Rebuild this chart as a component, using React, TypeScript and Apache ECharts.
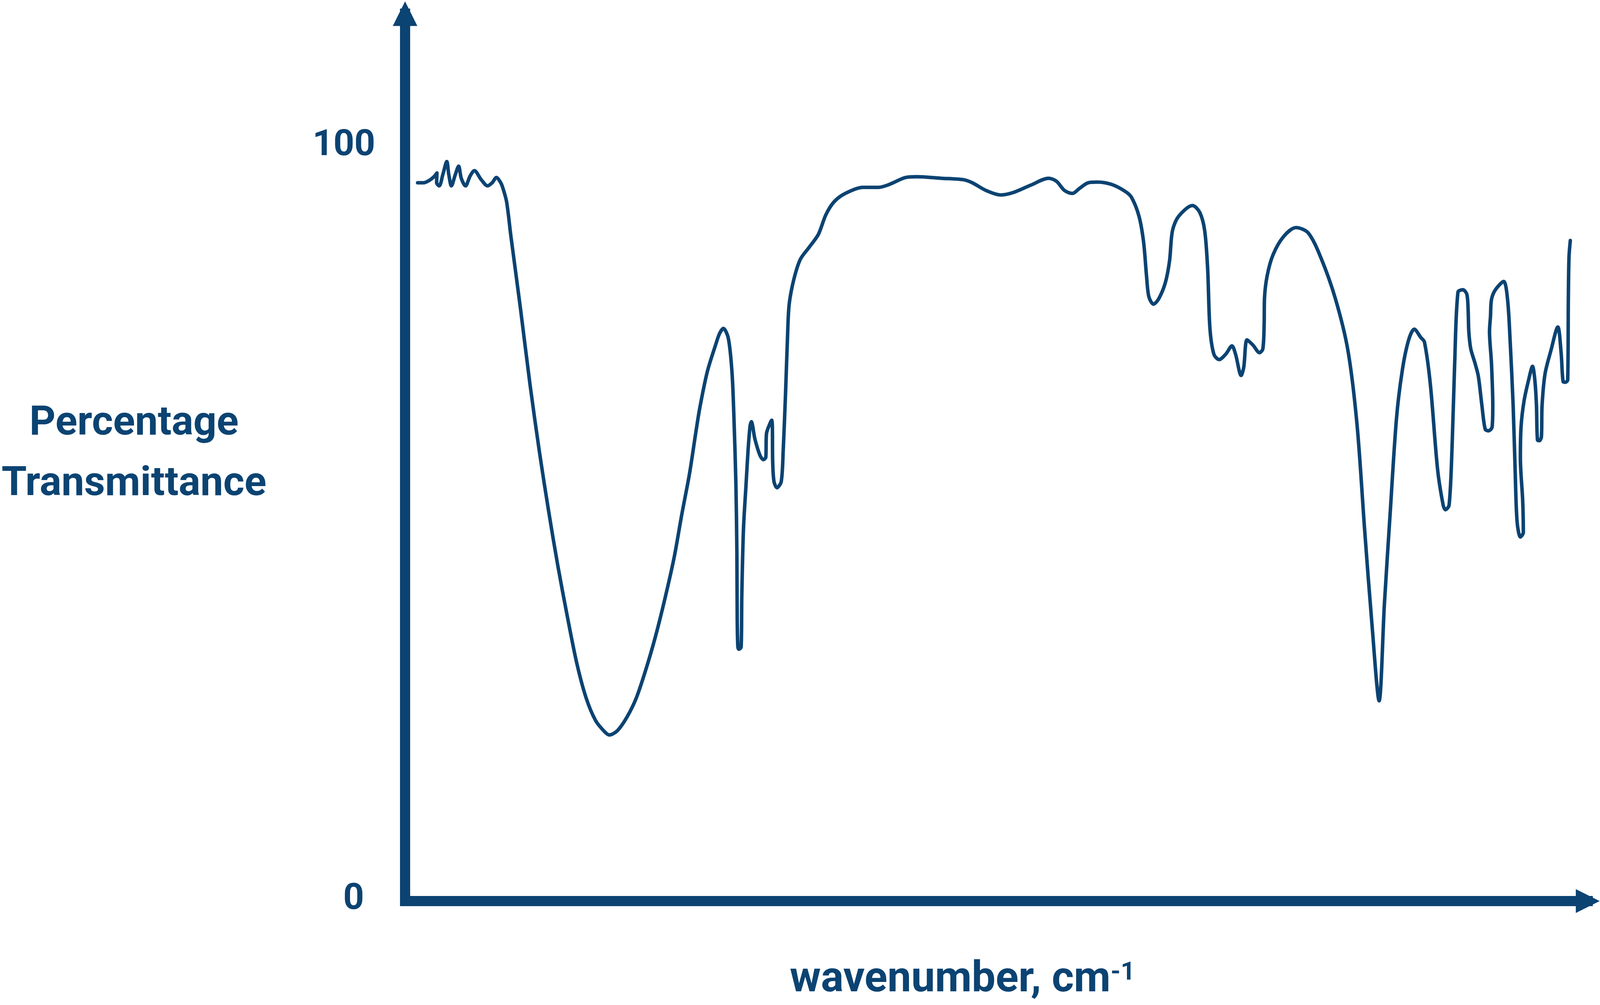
import { useEffect, useRef } from 'react'
import * as echarts from 'echarts'

const INK = '#0b4372'
const FONT = 'Roboto, "Noto Sans", sans-serif'

// layout was measured on a 4562 x 2572 page; everything is scaled to the real viewport
const BASE_W = 4562
const BASE_H = 2572

// wavenumber (cm-1), read left to right along the trace
const wavenumbers = [
  3962, 3944, 3927, 3912, 3903, 3904, 3896, 3885, 3873, 3867, 3859, 3847, 3837, 3829, 3816, 3802,
  3789, 3768, 3749, 3735, 3722, 3710, 3703, 3691, 3678, 3649, 3620, 3591, 3563, 3535, 3506, 3477,
  3449, 3420, 3392, 3378, 3353, 3324, 3296, 3268, 3239, 3210, 3181, 3158, 3134, 3116, 3103, 3080,
  3055, 3043, 3031, 3016, 3005, 2999, 2993, 2990, 2989, 2987, 2984, 2977, 2975, 2970, 2962, 2956,
  2950, 2946, 2935, 2920, 2909, 2902, 2900, 2888, 2884, 2882, 2881, 2877, 2868, 2855, 2849, 2842,
  2836, 2831, 2817, 2797, 2770, 2742, 2719, 2694, 2660, 2606, 2559, 2525, 2477, 2442, 2368, 2299,
  2273, 2232, 2187, 2150, 2095, 2041, 2017, 1993, 1969, 1946, 1921, 1892, 1850, 1809, 1789, 1766,
  1752, 1743, 1736, 1722, 1706, 1686, 1673, 1664, 1645, 1603, 1581, 1566, 1557, 1550, 1538, 1522,
  1502, 1483, 1472, 1455, 1447, 1437, 1419, 1399, 1389, 1385, 1384, 1376, 1358, 1326, 1288, 1251,
  1213, 1168, 1130, 1102, 1079, 1057, 1035, 1019, 1001, 982, 964, 945, 928, 908, 897, 879,
  857, 840, 833, 822, 813, 805, 795, 780, 768, 764, 762, 756, 743, 733, 722, 712,
  702, 691, 689, 693, 699, 696, 693, 681, 656, 644, 636, 627, 621, 615, 605, 596,
  598, 605, 603, 594, 580, 568, 561, 556, 553, 547, 541, 539, 530, 512, 491, 481,
  475, 468, 461, 459, 457, 453,
]

// percentage transmittance at each wavenumber above
const transmittance = [
  94.7, 94.7, 95.0, 95.5, 96.0, 94.7, 94.3, 95.8, 97.5, 95.8, 94.3, 95.8, 96.9, 95.3, 94.3, 95.6,
  96.3, 95.1, 94.3, 94.7, 95.4, 94.8, 94.1, 92.2, 87.7, 78.2, 68.2, 59.2, 51.4, 44.2, 37.5, 31.3,
  26.8, 23.8, 22.3, 21.9, 22.5, 24.3, 26.8, 30.4, 34.7, 39.7, 45.3, 50.9, 56.4, 61.5, 65.0, 69.8,
  73.3, 74.8, 75.5, 74.2, 69.8, 63.8, 55.0, 46.1, 37.2, 33.5, 33.2, 33.5, 40.2, 49.0, 55.0, 59.4,
  62.6, 63.2, 60.9, 58.8, 58.2, 58.5, 61.6, 63.1, 63.4, 62.6, 57.9, 55.3, 54.5, 55.3, 59.4, 66.8,
  74.2, 78.6, 81.9, 84.6, 86.2, 87.9, 90.5, 92.2, 93.3, 94.1, 94.1, 94.5, 95.4, 95.5, 95.3, 95.1,
  94.7, 93.7, 93.1, 93.4, 94.4, 95.3, 94.9, 93.7, 93.3, 94.0, 94.7, 94.8, 94.5, 93.6, 92.8, 90.3,
  86.9, 82.4, 79.7, 78.7, 79.4, 81.5, 84.4, 88.4, 90.3, 91.7, 90.8, 88.4, 83.4, 75.5, 72.1, 71.4,
  72.1, 73.2, 72.1, 69.3, 70.4, 74.0, 73.3, 72.3, 72.8, 76.0, 79.4, 82.4, 85.2, 87.6, 88.8, 88.1,
  84.9, 79.4, 72.6, 62.7, 48.9, 36.6, 26.4, 39.1, 51.4, 63.7, 70.1, 74.0, 75.4, 74.3, 73.7, 68.1,
  56.9, 52.2, 51.6, 52.2, 59.8, 70.9, 80.3, 80.6, 80.0, 77.9, 75.1, 72.8, 70.9, 69.2, 65.3, 62.2,
  62.0, 62.5, 65.3, 70.9, 75.1, 77.1, 79.3, 80.6, 81.7, 79.3, 73.7, 65.3, 56.9, 50.0, 48.0, 48.6,
  52.8, 58.4, 62.5, 65.9, 68.7, 70.5, 68.7, 65.3, 60.8, 60.7, 61.2, 65.3, 69.5, 72.6, 75.7, 72.3,
  68.5, 68.4, 68.7, 79.3, 84.9, 87.1,
]

const yTickLabels = [0, 100]
const yTitle = 'Percentage\nTransmittance'
const xTitle = 'wavenumber, cm'
const xTitleSup = '-1'

export default function App() {
  const ref = useRef<HTMLDivElement | null>(null)

  useEffect(() => {
    const el = ref.current
    if (!el) return
    const chart = echarts.init(el, null, { renderer: 'svg' })
    const sx = el.clientWidth / BASE_W
    const sy = el.clientHeight / BASE_H
    const s = Math.min(sx, sy)
    const data = wavenumbers.map((w, i) => [w, transmittance[i]])

    // y title: two centred lines, first baseline at 1110
    const yTitleSize = 116 * s
    const yTitleLine = 155 * sy
    const yTitleTop = 1110 * sy - yTitleLine / 2 - 0.33 * yTitleSize

    // x title: main baseline near the bottom edge
    const xTitleSize = 121 * s
    const xTitleLine = 106 * s
    const xTitleGap = 2536 * sy - (xTitleLine / 2 + 0.33 * xTitleSize) - 2306 * sy

    chart.setOption({
      animation: false,
      backgroundColor: '#ffffff',
      grid: {
        left: 1155 * sx,
        right: 35 * sx,
        top: 35 * sy,
        bottom: 266 * sy,
        containLabel: false,
        outerBoundsMode: 'none',
      },
      graphic: [
        {
          type: 'text',
          x: 382 * sx,
          y: yTitleTop,
          silent: true,
          style: {
            text: yTitle,
            fill: INK,
            fontFamily: FONT,
            fontSize: yTitleSize,
            fontWeight: 'bold',
            lineHeight: yTitleLine,
            align: 'center',
            verticalAlign: 'top',
          },
        },
      ],
      xAxis: {
        type: 'value',
        min: 400,
        max: 4000,
        inverse: true,
        name: `{m|${xTitle}}{s|${xTitleSup}}`,
        nameLocation: 'middle',
        nameGap: xTitleGap,
        nameMoveOverlap: false,
        nameTextStyle: {
          color: INK,
          padding: [0, 194 * sx, 0, 0],
          rich: {
            m: {
              fontFamily: FONT,
              fontSize: xTitleSize,
              fontWeight: 'bold',
              lineHeight: xTitleLine,
              color: INK,
            },
            s: {
              fontFamily: FONT,
              fontSize: 72 * s,
              fontWeight: 'bold',
              lineHeight: 58 * s,
              verticalAlign: 'top',
              color: INK,
            },
          },
        },
        axisLine: {
          show: true,
          onZero: false,
          symbol: ['none', 'triangle'],
          symbolSize: [68 * s, 68 * s],
          lineStyle: { color: INK, width: 29 * s, cap: 'square' },
        },
        axisTick: { show: false },
        axisLabel: { show: false },
        splitLine: { show: false },
      },
      yAxis: {
        type: 'value',
        min: 0,
        max: 117,
        interval: 100,
        axisLine: {
          show: true,
          onZero: false,
          symbol: ['none', 'triangle'],
          symbolSize: [70 * s, 70 * s],
          lineStyle: { color: INK, width: 29 * s, cap: 'square' },
        },
        axisTick: { show: false },
        splitLine: { show: false },
        axisLabel: {
          margin: 85 * sx,
          color: INK,
          formatter: (v: number) => {
            if (!yTickLabels.includes(v)) return ''
            return v === 0 ? `{z|${v}}` : `{h|${v}}`
          },
          rich: {
            h: { fontFamily: FONT, fontSize: 104 * s, fontWeight: 'bold', color: INK },
            z: {
              fontFamily: FONT,
              fontSize: 104 * s,
              fontWeight: 'bold',
              color: INK,
              padding: [0, 32 * s, 26 * s, 0],
            },
          },
        },
      },
      series: [
        {
          type: 'line',
          data,
          showSymbol: false,
          smooth: 0.3,
          silent: true,
          lineStyle: { color: INK, width: 10 * s, join: 'round', cap: 'round' },
        },
      ],
    })

    return () => chart.dispose()
  }, [])

  return (
    <div
      ref={ref}
      style={{ position: 'fixed', left: 0, top: 0, width: '100vw', height: '100vh', background: '#ffffff' }}
    />
  )
}
